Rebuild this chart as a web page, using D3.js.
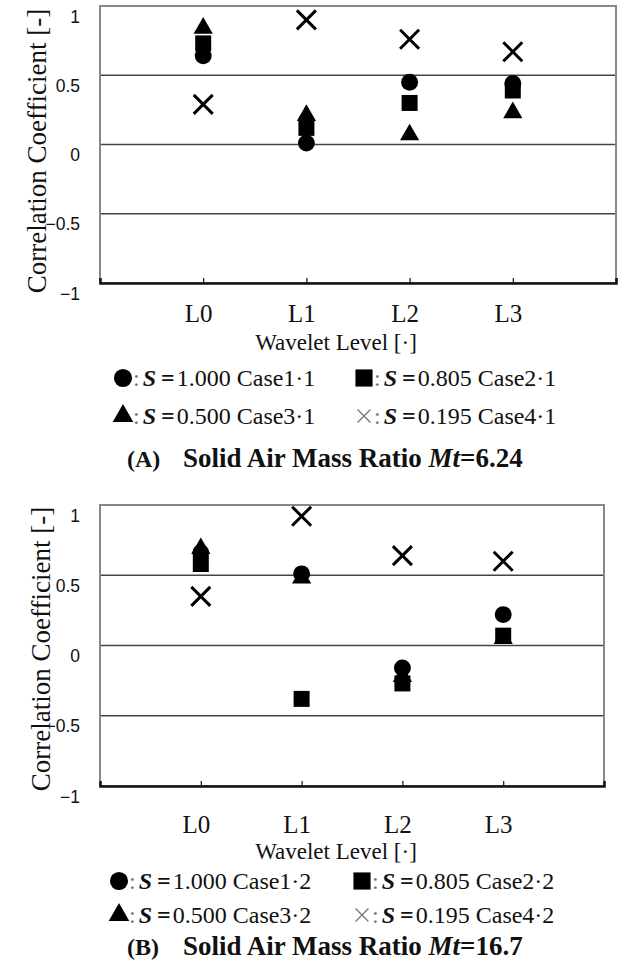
<!DOCTYPE html>
<html lang="en">
<head>
<meta charset="UTF-8">
<title>Correlation Coefficient by Wavelet Level</title>
<script src="https://d3js.org/d3.v7.min.js"></script>
<style>
    body { margin: 0; background: #fff; }
</style>
</head>
<body>
<svg id="chart" width="623" height="962"></svg>
<script>
    // categories and values
    const levels = ["L0", "L1", "L2", "L3"];
    const yTicks = [-1, -0.5, 0, 0.5, 1];
    const gridValues = [-0.5, 0, 0.5];

    const sValues = ["1.000", "0.805", "0.500", "0.195"];
    const caseLabelsA = ["Case1·1", "Case2·1", "Case3·1", "Case4·1"];
    const caseLabelsB = ["Case1·2", "Case2·2", "Case3·2", "Case4·2"];

    // panel A, Mt = 6.24
    const circleA = [0.64, 0.01, 0.45, 0.44];
    const squareA = [0.73, 0.12, 0.30, 0.39];
    const triangleA = [0.84, 0.21, 0.07, 0.23];
    const crossA = [0.29, 0.90, 0.76, 0.67];

    // panel B, Mt = 16.7
    const circleB = [0.66, 0.51, -0.16, 0.22];
    const squareB = [0.58, -0.38, -0.27, 0.07];
    const triangleB = [0.69, 0.48, -0.22, 0.05];
    const crossB = [0.35, 0.92, 0.64, 0.60];

    const SERIF = '"Liberation Serif", "DejaVu Serif", serif';
    const SANS = '"Liberation Sans", Arial, sans-serif';

    const svg = d3.select("#chart");

    const shapes = [
        {type: d3.symbolCircle, size: 225, cross: false},
        {type: d3.symbolSquare, size: 256, cross: false},
        {type: d3.symbolTriangle, size: 160, cross: false},
        {type: d3.symbolX, size: 237, cross: true}
    ];

    function serifText(sel, size) {
        return sel.style("font-family", SERIF).style("font-size", size + "px").attr("fill", "#111");
    }

    function drawPanel(p) {
        const g = svg.append("g");
        const x = d3.scalePoint().domain(levels).range([p.left, p.right]).padding(1);
        const y = d3.scaleLinear().domain([-1, 1]).range([p.bottom, p.top]);

        // grid lines
        g.selectAll("line.grid")
            .data(gridValues)
            .enter().append("line")
            .attr("class", "grid")
            .attr("x1", p.left).attr("x2", p.right)
            .attr("y1", d => y(d)).attr("y2", d => y(d))
            .attr("stroke", "#444")
            .attr("stroke-width", 1.3);

        // frame
        g.append("rect")
            .attr("x", p.left).attr("y", p.top)
            .attr("width", p.right - p.left).attr("height", p.bottom - p.top)
            .attr("fill", "none")
            .attr("stroke", "#888")
            .attr("stroke-width", 2);

        // y axis
        const yAxis = g.append("g")
            .attr("transform", `translate(${p.left},0)`)
            .call(d3.axisLeft(y).tickValues(yTicks).tickFormat(d3.format("~g")).tickSize(0).tickPadding(20));
        yAxis.select(".domain").remove();
        yAxis.selectAll("text")
            .attr("dy", "0.92em")
            .attr("fill", "#111")
            .style("font-family", SANS)
            .style("font-size", "17.5px");

        // x axis with short inward ticks
        const xAxis = g.append("g")
            .attr("transform", `translate(0,${p.bottom})`)
            .call(d3.axisBottom(x).tickSize(-5).tickPadding(p.tickPad));
        xAxis.select(".domain").attr("stroke", "#111").attr("stroke-width", 2.5);
        xAxis.selectAll("line").attr("stroke", "#111").attr("stroke-width", 1.2);
        serifText(xAxis.selectAll("text"), 25).attr("dx", "-5px");

        // y title
        serifText(g.append("text"), 27)
            .attr("transform", `translate(${p.yTitleX},${p.yTitleY}) rotate(-90)`)
            .attr("text-anchor", "middle")
            .text("Correlation Coefficient [-]");

        // x title
        serifText(g.append("text"), 23)
            .attr("x", 336).attr("y", p.wlY)
            .attr("text-anchor", "middle")
            .text("Wavelet Level [·]");

        // markers
        const series = [p.circle, p.square, p.triangle, p.cross];
        series.forEach((vals, i) => {
            const sh = shapes[i];
            g.selectAll(null)
                .data(vals.map((v, j) => ({level: levels[j], value: v})))
                .enter().append("path")
                .attr("d", d3.symbol().type(sh.type).size(sh.size))
                .attr("transform", d => `translate(${x(d.level)},${y(d.value)})`)
                .attr("fill", sh.cross ? "none" : "#000")
                .attr("stroke", sh.cross ? "#000" : "none")
                .attr("stroke-width", 3);
        });

        // legend
        const legendPos = [
            {x: p.legX1, y: p.row1Y},
            {x: p.legX2, y: p.row1Y},
            {x: p.legX1, y: p.row2Y},
            {x: p.legX2, y: p.row2Y}
        ];
        legendPos.forEach((pos, i) => {
            const sh = shapes[i];
            g.append("path")
                .attr("d", d3.symbol().type(sh.type).size(sh.cross ? 110 : sh.size * 1.15))
                .attr("transform", `translate(${pos.x},${pos.y - 8})`)
                .attr("fill", sh.cross ? "none" : "#000")
                .attr("stroke", sh.cross ? "#777" : "none")
                .attr("stroke-width", 1.3);
            const t = serifText(g.append("text"), 24)
                .attr("x", pos.x + 10).attr("y", pos.y);
            t.append("tspan").attr("fill", "#777").text(":");
            t.append("tspan").attr("dx", 3).attr("font-weight", "bold").attr("font-style", "italic").text("S");
            t.append("tspan").attr("dx", 5).attr("font-weight", "bold").text("=");
            t.append("tspan").attr("dx", 2).text(sValues[i] + " " + p.cases[i]);
        });

        // panel title
        const title = serifText(g.append("text"), 27)
            .attr("x", 127).attr("y", p.titleY)
            .attr("font-weight", "bold");
        title.append("tspan").style("font-size", "24px").text(p.tag);
        title.append("tspan").attr("x", 183).text("Solid Air Mass Ratio ");
        title.append("tspan").attr("font-style", "italic").text("Mt");
        title.append("tspan").text("=" + p.mt);
    }

    drawPanel({
        left: 100, right: 616, top: 6, bottom: 283, tickPad: 21,
        yTitleX: 46, yTitleY: 151, wlY: 350, row1Y: 386, row2Y: 424, titleY: 467,
        legX1: 123, legX2: 364,
        circle: circleA, square: squareA, triangle: triangleA, cross: crossA,
        cases: caseLabelsA, tag: "(A)", mt: "6.24"
    });

    drawPanel({
        left: 100, right: 604, top: 505, bottom: 786, tickPad: 29,
        yTitleX: 50, yTitleY: 649, wlY: 859, row1Y: 889, row2Y: 923, titleY: 955,
        legX1: 119, legX2: 362,
        circle: circleB, square: squareB, triangle: triangleB, cross: crossB,
        cases: caseLabelsB, tag: "(B)", mt: "16.7"
    });
</script>
</body>
</html>
